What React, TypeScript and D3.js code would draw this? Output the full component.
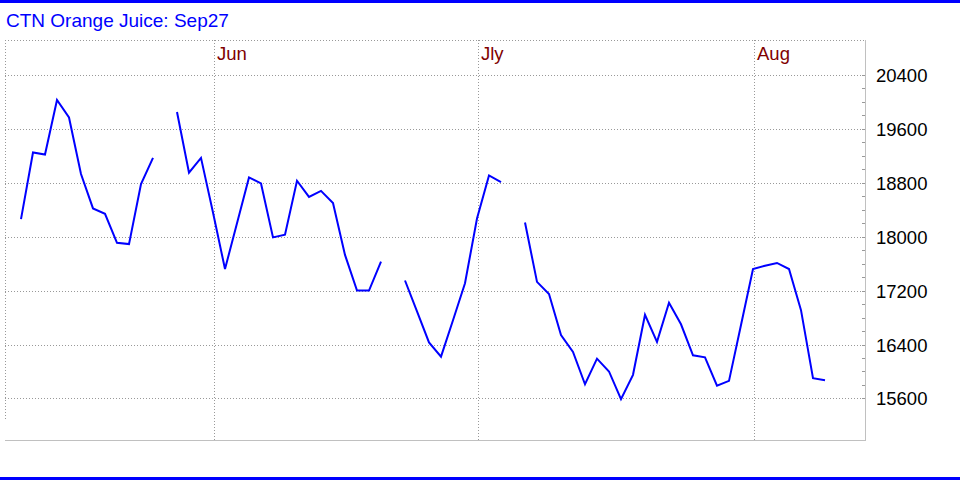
import * as d3 from "d3";

const width = 960;
const height = 480;
const plotLeft = 5;
const plotRight = 865;
const plotTop = 40;
const plotBottom = 440;

const title = "CTN Orange Juice: Sep27";

// daily settlement, null = no trade (line break)
const prices: (number | null)[] = [
  18260, 19250, 19220, 20030, 19770, 18930, 18420, 18340, 17910, 17890, 18780, 19170,
  null,
  19850, 18950, 19170, 18360, 17520, 18200, 18880, 18790, 17990, 18030, 18830, 18590,
  18680, 18500, 17730, 17200, 17200, 17630,
  null,
  17350, 16890, 16430, 16220, 16760, 17310, 18270, 18910, 18810,
  null,
  18210, 17330, 17150, 16540, 16290, 15810, 16190, 16000, 15590, 15950, 16840, 16440,
  17020, 16700, 16240, 16210, 15790, 15860, 16690, 17520, 17570, 17610, 17520, 16910,
  15900, 15870,
];

const monthLabels = ["Jun", "Jly", "Aug"];
const monthIndex = [16, 38, 61];

const yTicks = [15600, 16400, 17200, 18000, 18800, 19600, 20400];
const yMinorTicks = d3.range(15600, 20401, 200);

const font = "Arial, 'Liberation Sans', sans-serif";

const App = () => {
  const x = d3
    .scaleLinear()
    .domain([0, prices.length - 1])
    .range([21, 825]);

  const y = d3.scaleLinear().domain([15600, 20400]).range([398.4, 75]);

  const lineBuilder = d3
    .line<number | null>()
    .defined((d) => d !== null)
    .x((_, i) => x(i))
    .y((d) => y(d as number));

  return (
    <svg
      width={width}
      height={height}
      viewBox={`0 0 ${width} ${height}`}
      style={{ position: "absolute", left: 0, top: 0, background: "#fff" }}
    >
      <rect x={0} y={0} width={width} height={3} fill="#0000ff" />
      <rect x={0} y={477} width={width} height={3} fill="#0000ff" />

      <text x={6} y={27} fill="#0000ff" fontFamily={font} fontSize={19}>
        {title}
      </text>

      {/* frame */}
      <line
        x1={plotLeft}
        x2={plotRight}
        y1={plotTop + 0.5}
        y2={plotTop + 0.5}
        stroke="#999"
        strokeDasharray="1 2"
      />
      <line
        x1={plotLeft + 0.5}
        x2={plotLeft + 0.5}
        y1={plotTop}
        y2={421}
        stroke="#999"
        strokeDasharray="1 2"
      />
      <line x1={plotRight + 0.5} x2={plotRight + 0.5} y1={plotTop} y2={plotBottom + 1} stroke="#c0c0c0" />
      <line x1={plotLeft} x2={plotRight + 1} y1={plotBottom + 0.5} y2={plotBottom + 0.5} stroke="#c0c0c0" />

      {/* horizontal grid + labels */}
      {yTicks.map((t) => {
        const yy = Math.round(y(t)) + 0.5;
        return (
          <g key={t}>
            <line x1={plotLeft} x2={plotRight} y1={yy} y2={yy} stroke="#999" strokeDasharray="1 2" />
            <text x={876} y={yy + 6.5} fill="#000" fontFamily={font} fontSize={18.5}>
              {t}
            </text>
          </g>
        );
      })}
      {yMinorTicks.map((t) => {
        const yy = Math.round(y(t)) + 0.5;
        return <line key={t} x1={plotRight - 3} x2={plotRight} y1={yy} y2={yy} stroke="#999" />;
      })}

      {/* month grid + labels */}
      {monthIndex.map((m, i) => {
        const xx = Math.round(x(m)) + 1.5;
        return (
          <g key={m}>
            <line x1={xx} x2={xx} y1={plotTop} y2={plotBottom} stroke="#999" strokeDasharray="1 2" />
            <text x={xx + 2.5} y={60} fill="#800000" fontFamily={font} fontSize={18.5}>
              {monthLabels[i]}
            </text>
          </g>
        );
      })}

      <path d={lineBuilder(prices) as string} fill="none" stroke="#0000ff" strokeWidth={2} />
    </svg>
  );
};

export default App;
